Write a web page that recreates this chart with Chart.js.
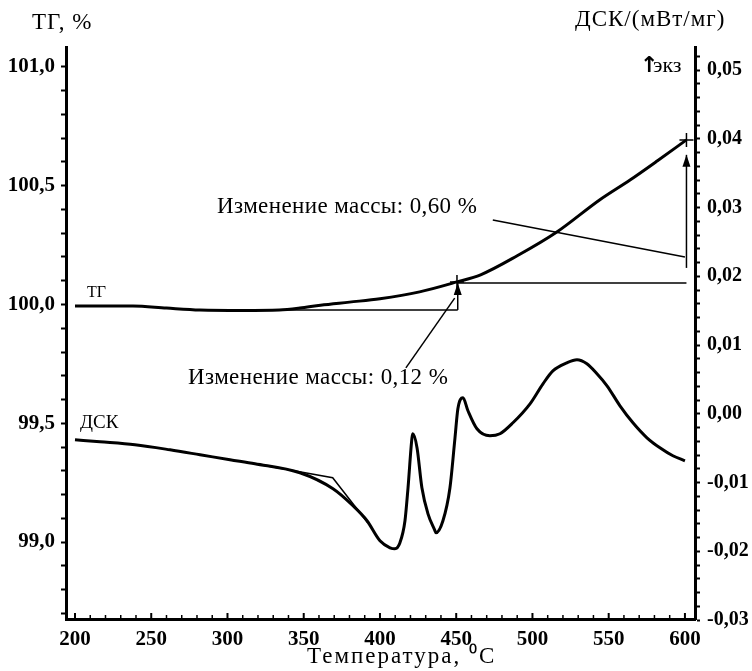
<!DOCTYPE html>
<html>
<head>
<meta charset="utf-8">
<script src="https://cdn.jsdelivr.net/npm/chart.js@4.4.0/dist/chart.umd.min.js"></script>
<style>
  html, body { margin: 0; padding: 0; background: #fff; }
  #wrap { width: 752px; height: 671px; }
</style>
</head>
<body>
<div id="wrap"><canvas id="chart" width="752" height="671"></canvas></div>
<script>
// ТГ curve (left axis, %)
const tgTemp = [200, 238, 260, 282, 310, 334, 347.5, 361, 380, 400, 426, 450.5, 466, 490, 516, 544, 564, 582, 601];
const tgVal  = [99.994, 99.994, 99.985, 99.977, 99.975, 99.977, 99.985, 99.997, 100.01, 100.024, 100.053, 100.095, 100.125, 100.205, 100.305, 100.44, 100.524, 100.605, 100.693];

// ДСК curve (right axis, мВт/мг)
const dscTemp = [200, 216.4, 239.3, 262.3, 282, 301.6, 318, 347.5, 369.2, 382.3, 391.5, 400, 406.6, 409.8, 413.1, 416.4, 418.4, 421, 421.6, 424.3, 427.5, 431.5, 436.1, 436.7, 441.3, 445.9, 449.2, 451.1, 454.4, 457.7, 463.6, 472.1, 478.7, 487.2, 498.4, 506.9, 513.4, 522.6, 529.2, 535.7, 542.3, 548.9, 557.4, 565.9, 575.1, 583.6, 592.1, 600];
const dscVal  = [-0.00378, -0.00407, -0.00451, -0.00524, -0.00596, -0.00669, -0.00727, -0.00858, -0.01091, -0.01338, -0.01556, -0.01847, -0.01949, -0.01964, -0.01876, -0.01556, -0.01076, -0.00349, -0.00291, -0.00495, -0.01076, -0.01455, -0.01702, -0.01731, -0.01556, -0.01076, -0.00349, 0.00073, 0.00233, 0.00044, -0.00218, -0.0032, -0.00291, -0.00131, 0.00145, 0.00436, 0.00625, 0.00742, 0.00785, 0.00727, 0.00582, 0.00407, 0.00116, -0.00131, -0.00349, -0.00495, -0.00611, -0.00684];

// construction lines on ТГ, [temp, %]
const tgGuides = [
    [[300, 99.977], [451, 99.977]],
    [[451, 99.977], [451, 100.09]],
    [[451, 100.09], [601, 100.09]],
    [[601, 100.154], [601, 100.63]],
    [[474, 100.356], [600, 100.2]],
    [[417, 99.733], [449, 100.027]]
];
// onset tangent on ДСК, [temp, мВт/мг]
const dscTangent = [[318, -0.00727], [369, -0.00931], [392, -0.01585]];
// step marks on ТГ
const markTemp = [450.5, 601];
const markVal  = [100.095, 100.693];

const xTicks = [];
for (let t = 200; t <= 600; t += 10) xTicks.push(t);
const yTicks = [];
for (let i = 987; i <= 1010; i++) yTicks.push(i / 10);
const y2Ticks = [];
for (let i = -15; i <= 26; i++) y2Ticks.push(i / 500);

const FONT = "'Liberation Serif', 'Times New Roman', serif";

const toXY = (xs, ys) => xs.map((x, i) => ({ x: x, y: ys[i] }));

const datasets = [
    {
        label: 'ТГ', data: toXY(tgTemp, tgVal), yAxisID: 'y',
        borderColor: '#000', borderWidth: 3, pointRadius: 0,
        cubicInterpolationMode: 'monotone'
    },
    {
        label: 'ДСК', data: toXY(dscTemp, dscVal), yAxisID: 'y2',
        borderColor: '#000', borderWidth: 3, pointRadius: 0,
        cubicInterpolationMode: 'monotone'
    },
    {
        label: 'tangent', data: dscTangent.map(p => ({ x: p[0], y: p[1] })), yAxisID: 'y2',
        borderColor: '#000', borderWidth: 1.5, pointRadius: 0, tension: 0
    },
    {
        label: 'marks', data: toXY(markTemp, markVal), yAxisID: 'y', showLine: false,
        pointStyle: 'cross', pointRadius: 7, borderColor: '#000', borderWidth: 1.5
    }
];
tgGuides.forEach((seg, i) => {
    datasets.push({
        label: 'guide' + i, data: seg.map(p => ({ x: p[0], y: p[1] })), yAxisID: 'y',
        borderColor: '#000', borderWidth: 1.5, pointRadius: 0, tension: 0
    });
});

const comma = (v, d) => {
    if (Math.abs(v) < 1e-9) v = 0;
    return v.toFixed(d).replace('.', ',');
};

function arrowUp(ctx, x, y) {
    ctx.beginPath();
    ctx.moveTo(x, y);
    ctx.lineTo(x - 4, y + 12);
    ctx.lineTo(x + 4, y + 12);
    ctx.closePath();
    ctx.fill();
}

function label(ctx, text, x, y, font, spacing) {
    ctx.font = font;
    ctx.letterSpacing = (spacing || 0) + 'px';
    ctx.fillText(text, x, y);
    ctx.letterSpacing = '0px';
}

const decor = {
    id: 'decor',
    afterDraw(chart) {
        const ctx = chart.ctx;
        const xs = chart.scales.x, ys = chart.scales.y;
        const area = chart.chartArea;
        ctx.save();
        ctx.fillStyle = '#000';
        ctx.strokeStyle = '#000';

        // inward ticks on the temperature axis
        xs.ticks.forEach(t => {
            const px = xs.getPixelForValue(t.value);
            const major = t.value % 50 === 0;
            ctx.lineWidth = major ? 2 : 1.5;
            ctx.beginPath();
            ctx.moveTo(px, area.bottom);
            ctx.lineTo(px, area.bottom - (major ? 6 : 4));
            ctx.stroke();
        });

        // arrow heads on the vertical guides
        arrowUp(ctx, xs.getPixelForValue(tgGuides[1][1][0]), ys.getPixelForValue(tgGuides[1][1][1]));
        arrowUp(ctx, xs.getPixelForValue(tgGuides[3][1][0]), ys.getPixelForValue(tgGuides[3][1][1]));

        ctx.textBaseline = 'middle';
        ctx.textAlign = 'left';
        label(ctx, 'ТГ, %', 32, 23, '23px ' + FONT, 1);
        label(ctx, 'ДСК/(мВт/мг)', 575, 20, '23px ' + FONT, 1);
        label(ctx, 'Изменение массы: 0,60 %', 217, 207, '23px ' + FONT, 0.4);
        label(ctx, 'Изменение массы: 0,12 %', 188, 378, '23px ' + FONT, 0.4);
        label(ctx, 'Температура, ⁰C', 307, 657, '23px ' + FONT, 2);
        label(ctx, 'ТГ', 87, 293, '16px ' + FONT);
        label(ctx, 'ДСК', 80, 423, '19px ' + FONT);
        label(ctx, '↑', 640, 66, "bold 22px 'DejaVu Sans', sans-serif");
        label(ctx, 'экз', 653, 66, '22px ' + FONT);
        ctx.restore();
    }
};

new Chart(document.getElementById('chart'), {
    type: 'line',
    data: { datasets: datasets },
    options: {
        responsive: false,
        animation: false,
        devicePixelRatio: 1,
        layout: { padding: { top: 47, left: 0, right: 0, bottom: 0 } },
        plugins: { legend: { display: false }, tooltip: { enabled: false } },
        scales: {
            x: {
                type: 'linear', min: 194.1, max: 606.6,
                afterBuildTicks: s => { s.ticks = xTicks.map(v => ({ value: v })); },
                afterFit: s => { s.height = 52; },
                border: { color: '#000', width: 3 },
                grid: { drawOnChartArea: false, drawTicks: false },
                ticks: {
                    autoSkip: false, maxRotation: 0, padding: 8, color: '#000',
                    font: { family: FONT, size: 21, weight: 'bold' },
                    callback: v => (v % 50 === 0 ? String(v) : '')
                }
            },
            y: {
                type: 'linear', position: 'left', min: 98.676, max: 101.084,
                afterBuildTicks: s => { s.ticks = yTicks.map(v => ({ value: v })); },
                afterFit: s => { s.width = 66; },
                border: { color: '#000', width: 3 },
                grid: { drawOnChartArea: false, tickLength: 5, tickColor: '#000', tickWidth: 2 },
                ticks: {
                    autoSkip: false, padding: 6, color: '#000',
                    font: { family: FONT, size: 21, weight: 'bold' },
                    callback: v => (Math.abs(v * 2 - Math.round(v * 2)) < 1e-6 ? comma(v, 1) : '')
                }
            },
            y2: {
                type: 'linear', position: 'right', min: -0.02985, max: 0.05335,
                afterBuildTicks: s => { s.ticks = y2Ticks.map(v => ({ value: v })); },
                afterFit: s => { s.width = 57; },
                border: { color: '#000', width: 3 },
                grid: { drawOnChartArea: false, tickLength: 5, tickColor: '#000', tickWidth: 2 },
                ticks: {
                    autoSkip: false, padding: 7, color: '#000',
                    font: { family: FONT, size: 20, weight: 'bold' },
                    callback: v => (Math.abs(v * 100 - Math.round(v * 100)) < 1e-6 ? comma(v, 2) : '')
                }
            }
        }
    },
    plugins: [decor]
});
</script>
</body>
</html>
